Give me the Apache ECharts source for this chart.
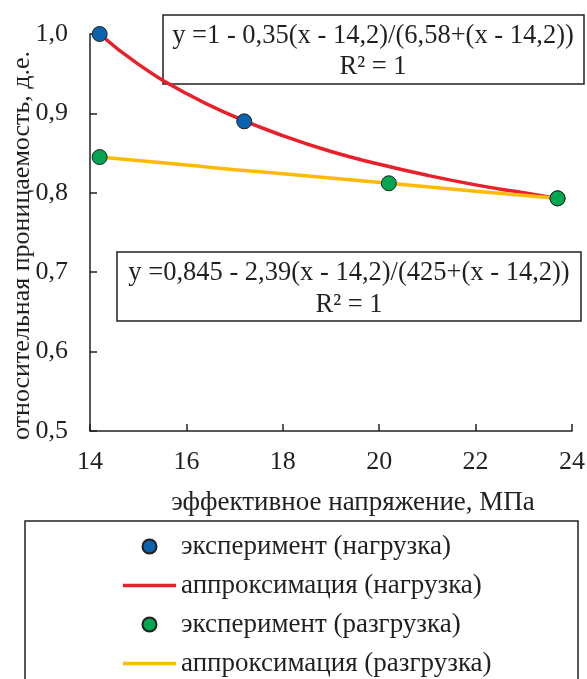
<!DOCTYPE html>
<html>
<head>
<meta charset="utf-8">
<script src="https://cdn.jsdelivr.net/npm/echarts@6/dist/echarts.min.js"></script>
<style>html,body{margin:0;padding:0;background:#fff;}#c{width:587px;height:679px;}</style>
</head>
<body>
<div id="c"></div>
<script>
// Experimental points (x = effective stress, MPa; y = relative permeability)
var loadX = [14.2, 17.2, 23.7];
var loadY = [1.0, 0.89, 0.793];
var unloadX = [14.2, 20.2, 23.7];
var unloadY = [0.845, 0.812, 0.793];
// Approximation curves, values
var fitLoadX = [14.2, 15, 16, 17, 18, 19, 20, 21, 22, 23, 23.7];
var fitLoadY = [1.0, 0.962, 0.925, 0.896, 0.872, 0.852, 0.836, 0.822, 0.810, 0.800, 0.793];
var fitUnloadX = [14.2, 16, 17, 18, 20.2, 22, 23.7];
var fitUnloadY = [0.845, 0.835, 0.829, 0.824, 0.812, 0.802, 0.793];
// Axis ticks
var xTicks = [14, 16, 18, 20, 22, 24];
var yTicks = [0.5, 0.6, 0.7, 0.8, 0.9, 1.0];
var names = ['эксперимент (нагрузка)', 'аппроксимация (нагрузка)', 'эксперимент (разгрузка)', 'аппроксимация (разгрузка)'];
var eq1 = ['y =1 - 0,35(x - 14,2)/(6,58+(x - 14,2))', 'R² = 1'];
var eq2 = ['y =0,845 - 2,39(x - 14,2)/(425+(x - 14,2))', 'R² = 1'];

function pairs(xs, ys) { return xs.map(function (x, i) { return [x, ys[i]]; }); }

var FONT = '"Liberation Serif", "Times New Roman", serif';
var TXT = '#231f20';
var LINE_ICON = 'path://M0,0H60V4H0Z';
var chart = echarts.init(document.getElementById('c'));
chart.setOption({
  backgroundColor: '#fff',
  animation: false,
  grid: { left: 90, right: 15, top: 34, bottom: 248, outerBoundsMode: 'none', containLabel: false },
  xAxis: {
    type: 'value', min: xTicks[0], max: xTicks[xTicks.length - 1], interval: 2,
    name: 'эффективное напряжение, МПа', nameLocation: 'middle', nameGap: 58, nameMoveOverlap: false,
    nameTextStyle: { fontFamily: FONT, fontSize: 27, color: TXT, padding: [0, 0, 0, 44] },
    axisLine: { lineStyle: { color: '#231f20', width: 1.5 } },
    axisTick: { inside: true, length: 7, lineStyle: { color: '#231f20', width: 1.5 } },
    axisLabel: { fontFamily: FONT, fontSize: 26, color: TXT, margin: 18 },
    splitLine: { show: false }
  },
  yAxis: {
    type: 'value', min: yTicks[0], max: yTicks[yTicks.length - 1], interval: 0.1,
    name: 'относительная проницаемость, д.е.', nameLocation: 'middle', nameGap: 55, nameMoveOverlap: false,
    nameTextStyle: { fontFamily: FONT, fontSize: 26, color: TXT, padding: [0, 26, 0, 0] },
    axisLine: { show: true, lineStyle: { color: '#231f20', width: 1.5 } },
    axisTick: { show: true, inside: true, length: 7, lineStyle: { color: '#231f20', width: 1.5 } },
    axisLabel: { fontFamily: FONT, fontSize: 26, color: TXT, margin: 22,
      formatter: function (v) { return v.toFixed(1).replace('.', ','); } },
    splitLine: { show: false }
  },
  legend: {
    orient: 'vertical', left: 118, top: 528, height: 300,
    itemWidth: 53, itemHeight: 14, itemGap: 12,
    textStyle: { fontFamily: FONT, fontSize: 27, color: TXT },
    data: [
      { name: names[0], icon: 'circle' },
      { name: names[1], icon: LINE_ICON, itemStyle: { color: '#e8202a' } },
      { name: names[2], icon: 'circle' },
      { name: names[3], icon: LINE_ICON, itemStyle: { color: '#ffba08' } }
    ]
  },
  series: [
    { name: names[1], type: 'line', data: pairs(fitLoadX, fitLoadY), smooth: true, symbol: 'none',
      lineStyle: { color: '#e8202a', width: 3.5 }, itemStyle: { color: '#e8202a' }, z: 2 },
    { name: names[3], type: 'line', data: pairs(fitUnloadX, fitUnloadY), smooth: true, symbol: 'none',
      lineStyle: { color: '#ffba08', width: 3.5 }, itemStyle: { color: '#ffba08' }, z: 2 },
    { name: names[0], type: 'scatter', data: pairs(loadX, loadY), symbol: 'circle', symbolSize: 15,
      itemStyle: { color: '#0b63b0', borderColor: '#231f20', borderWidth: 1, opacity: 1 }, z: 3 },
    { name: names[2], type: 'scatter', data: pairs(unloadX, unloadY), symbol: 'circle', symbolSize: 15,
      itemStyle: { color: '#00a651', borderColor: '#231f20', borderWidth: 1, opacity: 1 }, z: 3 }
  ],
  graphic: [
    { type: 'rect', shape: { x: 163, y: 15, width: 421, height: 69 },
      style: { fill: 'none', stroke: '#231f20', lineWidth: 1.5 }, z: 1 },
    { type: 'text', x: 373, y: 36, style: { text: eq1[0], fontFamily: FONT, fontSize: 26.5, fill: TXT, align: 'center', verticalAlign: 'middle' } },
    { type: 'text', x: 373, y: 67, style: { text: eq1[1], fontFamily: FONT, fontSize: 26.5, fill: TXT, align: 'center', verticalAlign: 'middle' } },
    { type: 'rect', shape: { x: 117, y: 252, width: 464, height: 69 },
      style: { fill: 'none', stroke: '#231f20', lineWidth: 1.5 }, z: 1 },
    { type: 'text', x: 349, y: 273, style: { text: eq2[0], fontFamily: FONT, fontSize: 26.5, fill: TXT, align: 'center', verticalAlign: 'middle' } },
    { type: 'text', x: 349, y: 305, style: { text: eq2[1], fontFamily: FONT, fontSize: 26.5, fill: TXT, align: 'center', verticalAlign: 'middle' } },
    { type: 'rect', shape: { x: 25, y: 521, width: 553, height: 200 },
      style: { fill: 'none', stroke: '#231f20', lineWidth: 1.5 }, z: 1 }
  ]
});
</script>
</body>
</html>
